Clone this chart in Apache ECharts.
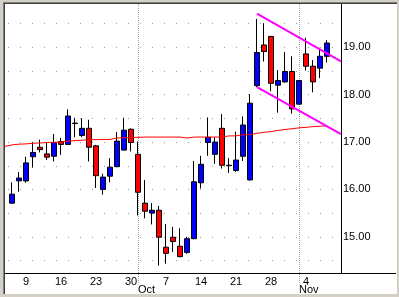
<!DOCTYPE html>
<html>
<head>
<meta charset="utf-8">
<script src="https://cdn.jsdelivr.net/npm/echarts@6/dist/echarts.min.js"></script>
<style>
  html, body { margin: 0; padding: 0; background: #d4d0c8; }
  #chart { position: absolute; left: 0; top: 0; width: 399px; height: 297px; background: #fff; }
  .edge { position: absolute; pointer-events: none; box-sizing: border-box; }
  #outer { left: 0; top: 0; width: 399px; height: 297px; border-style: solid; border-color: #d4d0c8; border-width: 2px 2px 3px 3px; }
  #shade1 { left: 3px; top: 2px; width: 394px; height: 292px; border-top: 1px solid #808080; border-left: 1px solid #808080; }
  #shade2 { left: 4px; top: 3px; width: 393px; height: 291px; border-top: 1px solid #404040; border-left: 1px solid #404040; }
</style>
</head>
<body>
<div id="chart"></div>
<div id="outer" class="edge"></div>
<div id="shade1" class="edge"></div>
<div id="shade2" class="edge"></div>
<script>
const days = [
  '9/5', '9/6', '9/9', '9/10', '9/11', '9/12', '9/13', '9/16', '9/17', '9/18', '9/19', '9/20',
  '9/23', '9/24', '9/25', '9/26', '9/27', '9/30',
  '10/1', '10/2', '10/3', '10/4', '10/7', '10/8', '10/9', '10/10', '10/11', '10/14', '10/15', '10/16',
  '10/17', '10/18', '10/21', '10/22', '10/23', '10/24', '10/25', '10/28', '10/29', '10/30', '10/31',
  '11/1', '11/4', '11/5', '11/6', '11/7'
]
const opens = [
  15.71, 16.18, 16.18, 16.69, 16.89, 16.75, 16.70, 17.01, 16.95, 17.39, 17.14, 17.29,
  16.92, 16.00, 16.28, 16.48, 16.83, 17.27,
  16.74, 15.71, 15.50, 15.56, 14.78, 14.99, 14.80, 14.67, 14.96, 16.14, 16.99, 16.74,
  17.29, 16.50, 16.40, 16.70, 16.20, 18.19, 19.05, 19.23, 18.20, 18.27, 18.49,
  17.80, 18.86, 18.60, 18.56, 18.81
]
const closes = [
  15.90, 16.24, 16.56, 16.78, 16.84, 16.68, 16.99, 16.95, 17.55, 17.40, 17.29, 16.89,
  16.29, 16.26, 16.47, 17.02, 17.25, 16.99,
  15.94, 15.54, 15.56, 14.99, 14.65, 14.90, 14.58, 14.96, 16.16, 16.53, 17.10, 17.00,
  16.51, 16.51, 16.62, 17.36, 17.82, 18.89, 18.91, 18.24, 18.30, 18.49, 17.70,
  18.30, 18.60, 18.27, 18.81, 19.09
]
const lows = [
  15.70, 15.95, 16.14, 16.46, 16.78, 16.62, 16.59, 16.73, 16.94, 17.10, 17.10, 16.59,
  16.03, 15.89, 16.15, 16.47, 16.83, 16.80,
  15.45, 15.39, 15.26, 14.39, 14.43, 14.68, 14.57, 14.64, 14.95, 16.02, 16.71, 16.54,
  16.44, 16.35, 16.37, 16.60, 16.19, 18.16, 18.70, 18.07, 17.62, 18.25, 17.60,
  17.79, 18.51, 18.05, 18.35, 18.68
]
const highs = [
  16.15, 16.37, 16.69, 17.00, 17.05, 16.99, 17.17, 17.09, 17.69, 17.51, 17.50, 17.47,
  16.94, 16.33, 16.66, 17.21, 17.51, 17.29,
  17.01, 16.20, 15.71, 15.65, 15.27, 15.21, 15.18, 15.00, 16.60, 16.71, 17.52, 17.10,
  17.59, 16.66, 17.22, 17.54, 18.01, 19.60, 19.51, 19.24, 18.52, 18.90, 18.81,
  18.31, 19.20, 18.73, 18.99, 19.15
]
// moving average, starting one slot before the first day
const movingAvg = [
  16.91, 16.94, 16.955, 16.96, 16.975, 16.98, 16.99, 16.995, 17.0, 17.02, 17.03, 17.04, 17.05,
  17.05, 17.055, 17.055, 17.085, 17.09, 17.095,
  17.10, 17.105, 17.105, 17.105, 17.105, 17.105, 17.105, 17.085, 17.105, 17.105, 17.105, 17.105,
  17.105, 17.13, 17.13, 17.155, 17.155, 17.185, 17.205, 17.22, 17.245, 17.265, 17.28,
  17.30, 17.31, 17.325, 17.335, 17.34
]
const channelFrom = '10/24'
const upperChannel = [19.71, 18.705]
const lowerChannel = [18.16, 17.165]

const weekLabels = ['9/9', '9/16', '9/23', '9/30', '10/7', '10/14', '10/21', '10/28', '11/4']
const monthStarts = ['10/1', '11/1']
const monthNames = ['Oct', 'Nov']
const priceLabels = [15, 16, 17, 18, 19]

// one blank slot before the first day, two after the last one
const categories = ['lead'].concat(days, ['trail1', 'trail2'])
const lastSlot = categories.length - 1
const channelStart = categories.indexOf(channelFrom)

// price scale: 19.00 sits at y=47.3, 47.37px per dollar
const PX = 47.37
const Y19 = 47.3
const priceAt = y => 19 + (Y19 - y) / PX
const plotTop = 4
const plotBottom = 273

const font = 'Liberation Sans, Arial, sans-serif'
const candles = days.map((d, k) => [k + 1, opens[k], closes[k], lows[k], highs[k]])

const chart = echarts.init(document.getElementById('chart'))
chart.setOption({
  animation: false,
  backgroundColor: '#fff',
  grid: [
    { left: 5, right: 58, top: plotTop, bottom: 297 - plotBottom },
    { left: 5, right: 58, top: Y19 - PX, bottom: 297 - (Y19 + 5 * PX) }
  ],
  xAxis: [
    {
      type: 'category', gridIndex: 0, data: categories, boundaryGap: false,
      axisLine: { lineStyle: { color: '#000', width: 1 } },
      axisTick: { show: false },
      axisLabel: {
        interval: (i, v) => weekLabels.includes(v),
        formatter: v => v.split('/')[1],
        color: '#000', fontSize: 11, fontFamily: font, margin: 3
      },
      splitLine: { show: false }
    },
    {
      type: 'category', gridIndex: 0, data: categories, boundaryGap: false,
      position: 'bottom', offset: 9,
      axisLine: { show: false },
      axisTick: { show: false },
      axisLabel: {
        interval: (i, v) => monthStarts.includes(v),
        formatter: v => monthNames[monthStarts.indexOf(v)] || '',
        align: 'left', color: '#000', fontSize: 11, fontFamily: font, margin: 2
      },
      splitLine: { show: false }
    },
    {
      type: 'category', gridIndex: 1, data: categories, boundaryGap: false,
      axisLine: { show: false },
      axisTick: { show: false },
      axisLabel: { show: false },
      splitLine: {
        show: true,
        interval: (i, v) => monthStarts.includes(v),
        lineStyle: { color: '#a0a0a0', width: 1, type: [1, 1] }
      }
    }
  ],
  yAxis: [
    {
      type: 'value', gridIndex: 0, position: 'right',
      min: priceAt(plotBottom), max: priceAt(plotTop),
      axisLine: { show: true, lineStyle: { color: '#000', width: 1 } },
      axisTick: { show: false },
      axisLabel: { show: false },
      splitLine: { show: false }
    },
    {
      type: 'value', gridIndex: 1, position: 'right',
      min: 14, max: 20, interval: 0.5,
      axisLine: { show: false },
      axisTick: { show: false },
      axisLabel: {
        formatter: v => priceLabels.some(p => Math.abs(p - v) < 1e-6) ? v.toFixed(2) : '',
        color: '#000', fontSize: 11, fontFamily: font, margin: 2
      },
      splitLine: {
        show: true, showMinLine: false, showMaxLine: false,
        lineStyle: { color: '#999', width: 1, type: [1, 11], dashOffset: 9 }
      }
    }
  ],
  graphic: [
    {
      type: 'line', silent: true,
      shape: { x1: 341, y1: plotBottom + 0.5, x2: 396, y2: plotBottom + 0.5 },
      style: { stroke: '#000', lineWidth: 1 }
    }
  ],
  series: [
    {
      type: 'line', xAxisIndex: 0, yAxisIndex: 0,
      data: movingAvg, symbol: 'none', silent: true,
      lineStyle: { color: '#ff0000', width: 1 }
    },
    {
      type: 'candlestick', xAxisIndex: 0, yAxisIndex: 0,
      data: candles, encode: { x: 0, y: [1, 2, 3, 4] },
      barWidth: 5, silent: true,
      itemStyle: {
        color: '#0000ff', color0: '#ff0000',
        borderColor: '#000', borderColor0: '#000', borderColorDoji: '#000', borderWidth: 1
      }
    },
    {
      type: 'line', xAxisIndex: 0, yAxisIndex: 0, symbol: 'none', silent: true,
      data: [[channelStart, upperChannel[0]], [lastSlot, upperChannel[1]]],
      lineStyle: { color: '#ff00ff', width: 2 }
    },
    {
      type: 'line', xAxisIndex: 0, yAxisIndex: 0, symbol: 'none', silent: true,
      data: [[channelStart, lowerChannel[0]], [lastSlot, lowerChannel[1]]],
      lineStyle: { color: '#ff00ff', width: 2 }
    }
  ]
})
</script>
</body>
</html>
